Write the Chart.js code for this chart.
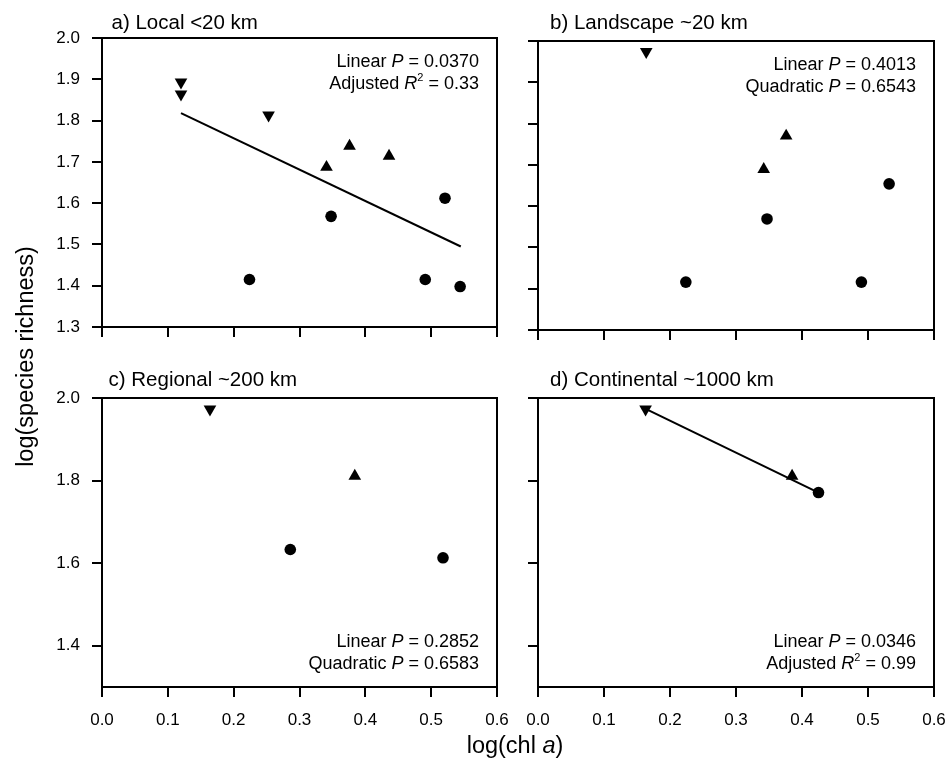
<!DOCTYPE html>
<html>
<head>
<meta charset="utf-8">
<title>log(species richness) vs log(chl a)</title>
<script src="https://cdn.jsdelivr.net/npm/chart.js@4"></script>
<style>
  html, body { margin: 0; padding: 0; background: #fff; }
  #wrap { position: relative; width: 950px; height: 770px; }
  #wrap canvas { position: absolute; left: 0; top: 0; }
</style>
</head>
<body>
<div id="wrap">
  <canvas id="panelA" width="950" height="770"></canvas>
  <canvas id="panelB" width="950" height="770"></canvas>
  <canvas id="panelC" width="950" height="770"></canvas>
  <canvas id="panelD" width="950" height="770"></canvas>
</div>
<script>
// ---- tick values ----
const xTickValues = [0.0, 0.1, 0.2, 0.3, 0.4, 0.5, 0.6];
const yTickValuesFine = [1.3, 1.4, 1.5, 1.6, 1.7, 1.8, 1.9, 2.0];
const yTickValuesCoarse = [1.4, 1.6, 1.8, 2.0];

// ---- a) Local <20 km ----
const localDownX = [0.120, 0.120, 0.253];
const localDownY = [1.893, 1.864, 1.813];
const localUpX = [0.341, 0.376, 0.436];
const localUpY = [1.687, 1.738, 1.714];
const localCircleX = [0.224, 0.348, 0.521, 0.491, 0.544];
const localCircleY = [1.415, 1.568, 1.612, 1.415, 1.398];
const localFitX = [0.120, 0.545];
const localFitY = [1.818, 1.495];

// ---- b) Landscape ~20 km ----
const landDownX = [0.164];
const landDownY = [1.974];
const landUpX = [0.342, 0.376];
const landUpY = [1.689, 1.770];
const landCircleX = [0.224, 0.347, 0.490, 0.532];
const landCircleY = [1.416, 1.569, 1.416, 1.654];

// ---- c) Regional ~200 km ----
const regDownX = [0.164];
const regDownY = [1.973];
const regUpX = [0.384];
const regUpY = [1.811];
const regCircleX = [0.286, 0.518];
const regCircleY = [1.633, 1.613];

// ---- d) Continental ~1000 km ----
const contDownX = [0.163];
const contDownY = [1.973];
const contUpX = [0.385];
const contUpY = [1.811];
const contCircleX = [0.425];
const contCircleY = [1.771];
const contFitX = [0.160, 0.425];
const contFitY = [1.976, 1.771];

// ---- panel text ----
const titleA = 'a) Local <20 km';
const titleB = 'b) Landscape ~20 km';
const titleC = 'c) Regional ~200 km';
const titleD = 'd) Continental ~1000 km';
const statsA = [['Linear ', 'P', ' = 0.0370'], ['Adjusted ', 'R', '2', ' = 0.33']];
const statsB = [['Linear ', 'P', ' = 0.4013'], ['Quadratic ', 'P', ' = 0.6543']];
const statsC = [['Linear ', 'P', ' = 0.2852'], ['Quadratic ', 'P', ' = 0.6583']];
const statsD = [['Linear ', 'P', ' = 0.0346'], ['Adjusted ', 'R', '2', ' = 0.99']];

const FONT = '"Liberation Sans", Arial, Helvetica, sans-serif';
const Y_AXIS_W = 60;
const X_AXIS_H = 45;
const W = 950, H = 770;

function zip(xs, ys) { return xs.map((x, i) => ({ x: x, y: ys[i] })); }

// Rich text: segments of [text, style] where style is '', 'i' (italic) or 's' (superscript)
function drawRich(ctx, segs, x, baseline, size, align) {
  const fontOf = s => s === 'i' ? `italic ${size}px ${FONT}` :
                      s === 's' ? `${Math.round(size * 0.6)}px ${FONT}` : `${size}px ${FONT}`;
  const widths = segs.map(([t, s]) => { ctx.font = fontOf(s); return ctx.measureText(t).width; });
  const total = widths.reduce((a, b) => a + b, 0);
  let cx = align === 'right' ? x - total : align === 'center' ? x - total / 2 : x;
  ctx.textAlign = 'left';
  ctx.textBaseline = 'alphabetic';
  segs.forEach(([t, s], i) => {
    ctx.font = fontOf(s);
    ctx.fillText(t, cx, baseline - (s === 's' ? size * 0.42 : 0));
    cx += widths[i];
  });
}

function statSegments(line) {
  // 'P' / 'R' are italic, '2' after 'R' is a superscript
  return line.map((t, i) => {
    if (t === 'P' || t === 'R') return [t, 'i'];
    if (t === '2' && line[i - 1] === 'R') return [t, 's'];
    return [t, ''];
  });
}

function makePanel(id, cfg) {
  const area = cfg.area;
  const datasets = [
    { data: zip(cfg.downX, cfg.downY), pointStyle: 'triangle', pointRotation: 180, pointRadius: 7.3,
      backgroundColor: '#000', borderColor: '#000', borderWidth: 0 },
    { data: zip(cfg.upX, cfg.upY), pointStyle: 'triangle', pointRotation: 0, pointRadius: 7.3,
      backgroundColor: '#000', borderColor: '#000', borderWidth: 0 },
    { data: zip(cfg.circleX, cfg.circleY), pointStyle: 'circle', pointRadius: 5.8,
      backgroundColor: '#000', borderColor: '#000', borderWidth: 0 }
  ];
  if (cfg.fitX) {
    datasets.push({ data: zip(cfg.fitX, cfg.fitY), showLine: true, pointRadius: 0,
      borderColor: '#000', borderWidth: 2, fill: false });
  }

  const textPlugin = {
    id: 'panelText',
    afterDraw(chart) {
      const ctx = chart.ctx;
      const ca = chart.chartArea;
      ctx.save();
      // frame
      ctx.strokeStyle = '#000';
      ctx.lineWidth = 2;
      ctx.strokeRect(ca.left, ca.top, ca.right - ca.left, ca.bottom - ca.top);
      ctx.fillStyle = '#000';
      // panel title
      ctx.font = `20.5px ${FONT}`;
      ctx.textAlign = 'left';
      ctx.textBaseline = 'alphabetic';
      ctx.fillText(cfg.title, ca.left + cfg.titleDx, cfg.titleBaseline);
      // statistics
      cfg.stats.forEach((line, i) => {
        const base = cfg.statsAtTop ? ca.top + 28.7 + i * 22.3 : ca.bottom - 40.3 + i * 22.3;
        drawRich(ctx, statSegments(line), ca.right - 18, base, 18, 'right');
      });
      if (cfg.axisTitles) {
        drawRich(ctx, [['log(chl ', ''], ['a', 'i'], [')', '']], 515, 753, 23.5, 'center');
        ctx.translate(32.5, 356.5);
        ctx.rotate(-Math.PI / 2);
        ctx.font = `23.5px ${FONT}`;
        ctx.textAlign = 'center';
        ctx.textBaseline = 'alphabetic';
        ctx.fillText('log(species richness)', 0, 0);
      }
      ctx.restore();
    }
  };

  return new Chart(document.getElementById(id), {
    type: 'scatter',
    data: { datasets: datasets },
    options: {
      responsive: false,
      animation: false,
      devicePixelRatio: 1,
      layout: {
        padding: {
          left: area.left - Y_AXIS_W,
          right: W - area.right,
          top: area.top,
          bottom: H - area.bottom - X_AXIS_H
        }
      },
      plugins: { legend: { display: false }, tooltip: { enabled: false } },
      scales: {
        x: {
          type: 'linear', min: 0, max: 0.6,
          afterBuildTicks: s => { s.ticks = xTickValues.map(v => ({ value: v })); },
          afterFit: s => { s.height = X_AXIS_H; s.paddingLeft = 0; s.paddingRight = 0; },
          grid: { drawOnChartArea: false, drawTicks: true, tickLength: 10, color: '#000', lineWidth: 2 },
          border: { display: true, color: '#000', width: 2 },
          ticks: { display: cfg.showX, padding: 13, color: '#000', font: { family: FONT, size: 17 },
                   maxRotation: 0, autoSkip: false, callback: v => Number(v).toFixed(1) }
        },
        y: {
          type: 'linear', min: 1.3, max: 2.0,
          afterBuildTicks: s => { s.ticks = cfg.yTicks.map(v => ({ value: v })); },
          afterFit: s => { s.width = Y_AXIS_W; s.paddingTop = 0; s.paddingBottom = 0; },
          grid: { drawOnChartArea: false, drawTicks: true, tickLength: 10, color: '#000', lineWidth: 2 },
          border: { display: true, color: '#000', width: 2 },
          ticks: { display: cfg.showY, padding: 12, color: '#000', font: { family: FONT, size: 17 },
                   autoSkip: false, callback: v => Number(v).toFixed(1) }
        }
      }
    },
    plugins: [textPlugin]
  });
}

makePanel('panelA', {
  area: { left: 102, right: 497, top: 38, bottom: 327 },
  showX: false, showY: true, yTicks: yTickValuesFine,
  downX: localDownX, downY: localDownY, upX: localUpX, upY: localUpY,
  circleX: localCircleX, circleY: localCircleY, fitX: localFitX, fitY: localFitY,
  title: titleA, titleDx: 9.5, titleBaseline: 28.5, stats: statsA, statsAtTop: true
});

makePanel('panelB', {
  area: { left: 538, right: 934, top: 41, bottom: 330 },
  showX: false, showY: false, yTicks: yTickValuesFine,
  downX: landDownX, downY: landDownY, upX: landUpX, upY: landUpY,
  circleX: landCircleX, circleY: landCircleY,
  title: titleB, titleDx: 12, titleBaseline: 28.5, stats: statsB, statsAtTop: true
});

makePanel('panelC', {
  area: { left: 102, right: 497, top: 398, bottom: 687 },
  showX: true, showY: true, yTicks: yTickValuesCoarse,
  downX: regDownX, downY: regDownY, upX: regUpX, upY: regUpY,
  circleX: regCircleX, circleY: regCircleY,
  title: titleC, titleDx: 6.5, titleBaseline: 385.5, stats: statsC, statsAtTop: false,
  axisTitles: true
});

makePanel('panelD', {
  area: { left: 538, right: 934, top: 398, bottom: 687 },
  showX: true, showY: false, yTicks: yTickValuesCoarse,
  downX: contDownX, downY: contDownY, upX: contUpX, upY: contUpY,
  circleX: contCircleX, circleY: contCircleY, fitX: contFitX, fitY: contFitY,
  title: titleD, titleDx: 12, titleBaseline: 385.5, stats: statsD, statsAtTop: false
});
</script>
</body>
</html>
